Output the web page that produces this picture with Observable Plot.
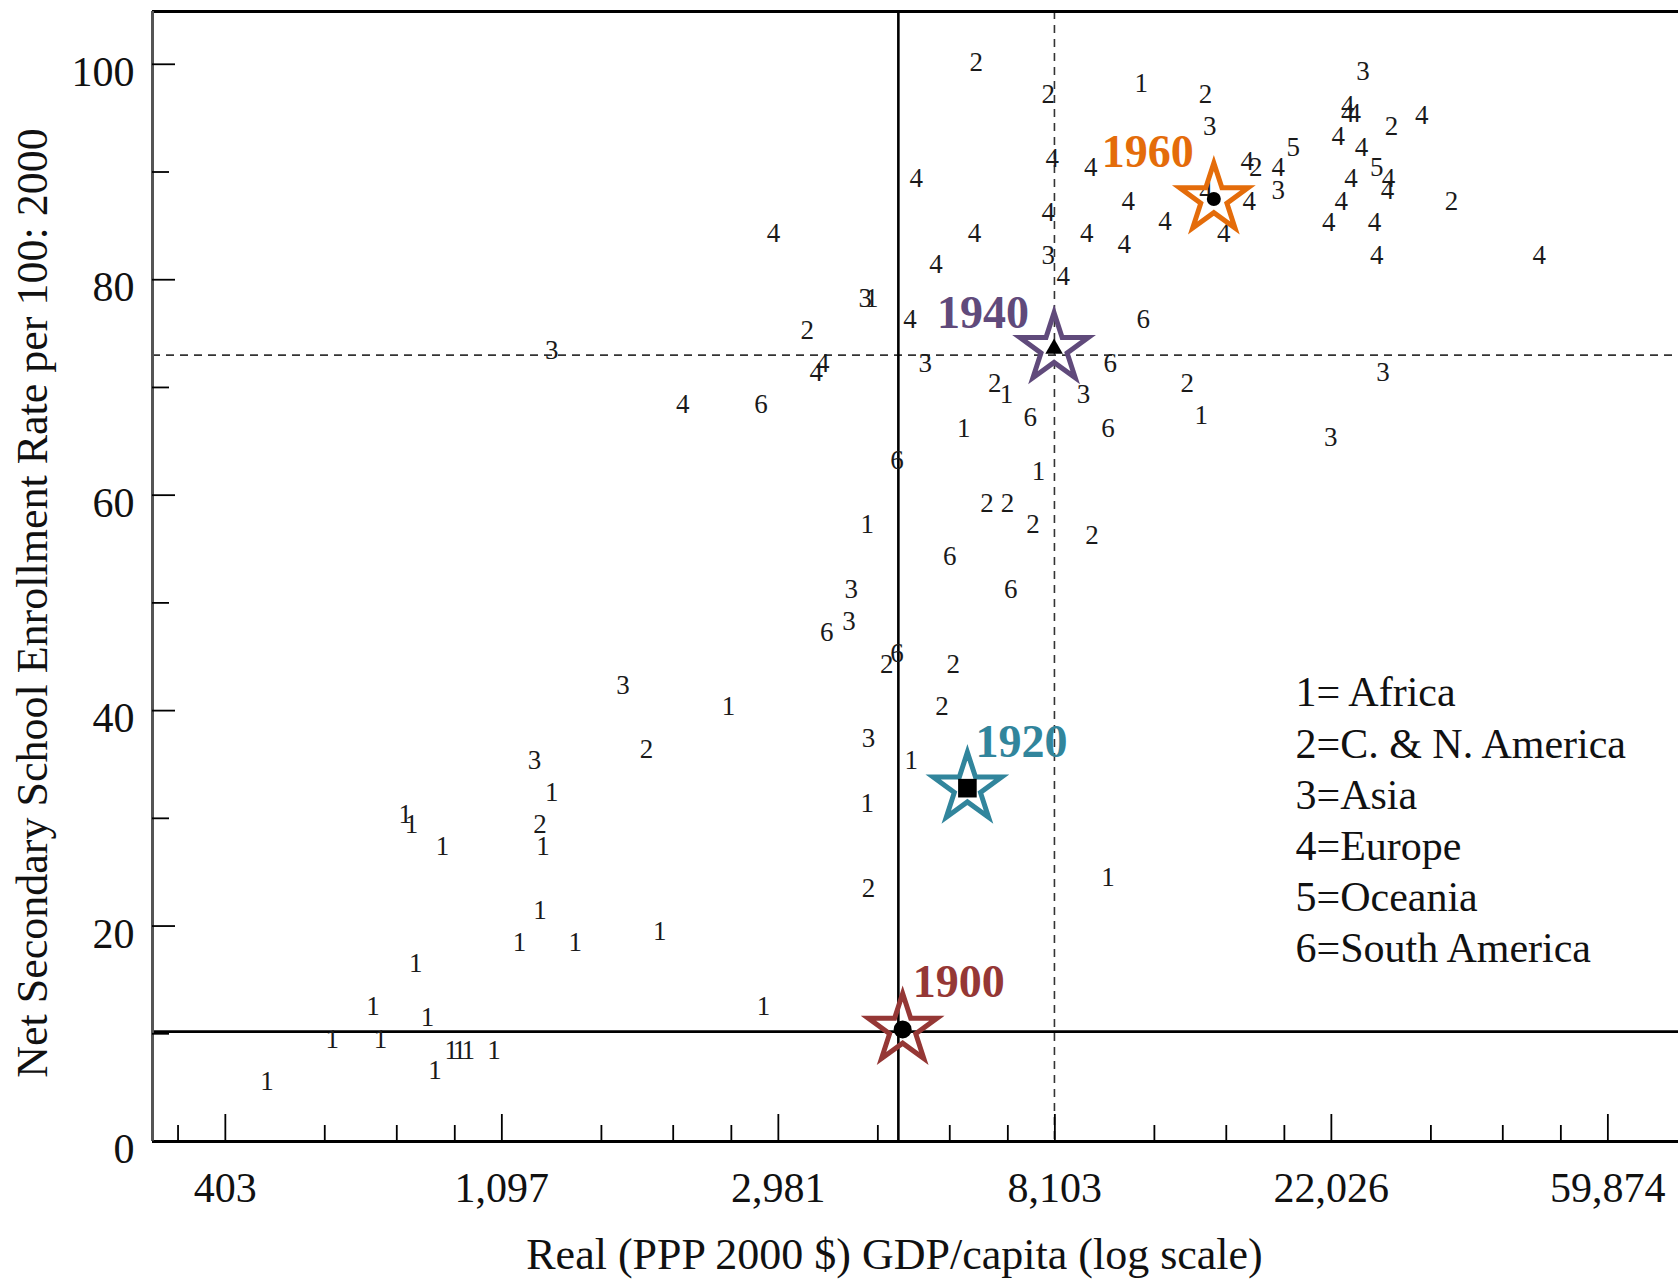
<!DOCTYPE html>
<html>
<head>
<meta charset="utf-8">
<script src="https://cdn.jsdelivr.net/npm/d3@7"></script>
<script src="https://cdn.jsdelivr.net/npm/@observablehq/plot@0.6"></script>
<style>
  html, body { margin: 0; padding: 0; background: #ffffff; overflow: hidden; }
  #chart svg { display: block; }
</style>
</head>
<body>
<div id="chart"></div>
<script>
// ---------------- DATA ----------------
// Region code of each country (1=Africa ... 6=South America)
const regionCode = [
  2, 2, 1, 2, 3, 3, 4, 4, 4, 2,
  4, 4, 4, 5, 4, 2, 4, 3, 4, 5,
  4, 4, 4, 4, 4, 4, 4, 4, 4, 4,
  4, 2, 4, 4, 4, 4, 4, 4, 4, 4,
  4, 4, 3, 4, 3, 1, 4, 2, 4, 4,
  3, 2, 1, 3, 6, 4, 6, 1, 6, 6,
  3, 6, 2, 1, 3, 3, 6, 1, 2, 2,
  2, 2, 1, 6, 6, 3, 3, 6, 2, 6,
  2, 2, 3, 1, 2, 3, 1, 1, 3, 1,
  1, 1, 2, 1, 1, 1, 2, 1, 1, 1,
  1, 1, 1, 1, 1, 1, 1, 1, 1, 1,
  1, 1, 1
];
// Real GDP per capita (PPP 2000 $)
const gdpPerCapita = [
  6100, 7910, 11080, 13970, 14190, 24690, 23380, 23380, 23920, 27390,
  30530, 22580, 24570, 19190, 16250, 16760, 18180, 18180, 23650, 25950,
  27080, 26980, 22830, 16370, 14930, 10570, 12070, 10410, 25740, 21810,
  25950, 34010, 46710, 14000, 8030, 9230, 4910, 2930, 6060, 7910,
  9090, 5270, 7910, 8350, 4080, 4180, 4800, 3310, 3500, 3420,
  5070, 6520, 6800, 8990, 9900, 2110, 2800, 5830, 7410, 9820,
  1313, 11160, 13080, 13760, 21980, 26550, 4580, 7640, 6340, 6830,
  7490, 9270, 4110, 5540, 6910, 3880, 3850, 3550, 4410, 4580,
  5610, 5390, 1700, 2490, 1850, 4130, 4820, 4110, 1234, 1313,
  773, 791, 1259, 1273, 885, 9820, 4130, 1259, 1169, 1430,
  1941, 803, 688, 838, 2826, 594, 707, 913, 941, 971,
  1066, 861, 469
];
// Net secondary school enrollment rate per 100, 2000
const enrollmentRate = [
  100.2, 97.2, 98.2, 97.2, 94.2, 99.3, 96.2, 95.4, 95.4, 94.2,
  95.3, 93.3, 92.3, 92.3, 91.0, 90.4, 90.4, 88.3, 89.4, 90.4,
  89.4, 88.3, 87.3, 87.3, 84.3, 87.3, 85.4, 83.3, 85.3, 85.3,
  82.3, 87.3, 82.3, 88.2, 91.3, 90.4, 89.4, 84.3, 84.3, 86.3,
  84.3, 81.4, 82.3, 80.3, 78.3, 78.3, 76.3, 75.3, 72.2, 71.4,
  72.2, 70.4, 69.4, 69.4, 72.2, 68.4, 68.4, 66.2, 67.2, 66.2,
  73.4, 76.3, 70.4, 67.4, 65.4, 71.4, 63.2, 62.2, 59.2, 59.2,
  57.3, 56.3, 57.3, 54.3, 51.3, 51.3, 48.3, 47.3, 44.3, 45.3,
  44.3, 40.4, 42.3, 40.4, 36.4, 37.4, 35.4, 31.4, 35.4, 32.4,
  30.4, 29.4, 29.4, 27.4, 27.4, 24.5, 23.5, 21.5, 18.5, 18.5,
  19.5, 16.5, 12.5, 11.5, 12.5, 9.5, 9.5, 8.5, 8.5, 8.5,
  8.5, 6.6, 5.6
];
const regionNames = ["Africa", "C. & N. America", "Asia", "Europe", "Oceania", "South America"];

// Historical benchmark averages (stars)
const benchYears = ["1900", "1920", "1940", "1960"];
const benchGdp = [4673, 5906, 8080, 14400];
const benchRate = [10.4, 32.8, 73.6, 87.5];
const benchColors = ["#953735", "#31859C", "#604A7B", "#E46C0A"];
const benchInner = ["circle", "square", "triangle", "circle"];

// Reference lines
const solidRefX = [4601];
const solidRefY = [10.2];
const dashedRefX = [8091];
const dashedRefY = [73.0];

// Axis ticks
const xTickValues = [403.43, 1096.63, 2980.96, 8103.08, 22026.47, 59874.14];
const xTickLabels = ["403", "1,097", "2,981", "8,103", "22,026", "59,874"];
const xMinorTicks = [340, 578, 750, 925, 1572, 2038, 2515, 4272, 5541, 6836,
                     11614, 15063, 18584, 31571, 40946, 50513];
const yTickValues = [0, 20, 40, 60, 80, 100];
const yTickLabels = ["0", "20", "40", "60", "80", "100"];
const yMinorTicks = [10, 30, 50, 70, 90];

const xTitle = "Real (PPP 2000 $) GDP/capita (log scale)";
const yTitle = "Net Secondary School Enrollment Rate per 100: 2000";

// ---------------- LAYOUT ----------------
const W = 1678, H = 1283;
const M = {left: 152, right: 0, top: 11, bottom: 142};
const innerW = W - M.left - M.right;
const innerH = H - M.top - M.bottom;
const xDomain = [310, 77300];
const yDomain = [0, 104.9];
const serif = "'Liberation Serif', 'Times New Roman', Times, serif";

const points = regionCode.map((r, i) => ({region: String(r), gdp: gdpPerCapita[i], rate: enrollmentRate[i]}));
const bench = benchYears.map((y, i) => ({year: y, gdp: benchGdp[i], rate: benchRate[i], color: benchColors[i], inner: benchInner[i]}));
const xTicks = xTickValues.map((v, i) => ({value: v, label: xTickLabels[i]}));
const yTicks = yTickValues.map((v, i) => ({value: v, label: yTickLabels[i]}));
const legendText = regionNames.map((n, i) => (i === 0 ? `${i + 1}= ${n}` : `${i + 1}=${n}`)).join("\n");

const labelStyle = {
  "1900": {anchor: "start", dx: 10, dy: -32},
  "1920": {anchor: "start", dx: 8, dy: -31},
  "1940": {anchor: "end", dx: -25, dy: -21},
  "1960": {anchor: "end", dx: -20, dy: -32}
};
const innerSize = {circle: 9, square: 10.5, triangle: 6.5};
const innerSizeByYear = {"1960": 7};

const marks = [
  // reference lines
  Plot.ruleX(dashedRefX, {stroke: "#333", strokeWidth: 1.6, strokeDasharray: "8,6"}),
  Plot.ruleY(dashedRefY, {stroke: "#333", strokeWidth: 1.6, strokeDasharray: "8,6"}),
  Plot.ruleX(solidRefX, {stroke: "#000", strokeWidth: 2.6}),
  Plot.ruleY(solidRefY, {stroke: "#000", strokeWidth: 2.6}),
  // frame lines
  Plot.ruleY([yDomain[1]], {stroke: "#000", strokeWidth: 3}),
  Plot.ruleY([yDomain[0]], {stroke: "#000", strokeWidth: 3}),
  Plot.ruleX([xDomain[0]], {stroke: "#555", strokeWidth: 3}),
  // inward ticks
  Plot.tickX(xTickValues, {stroke: "#000", strokeWidth: 1.8, insetTop: innerH - 27}),
  Plot.tickX(xMinorTicks, {stroke: "#000", strokeWidth: 1.8, insetTop: innerH - 16}),
  Plot.tickY(yTickValues, {stroke: "#000", strokeWidth: 1.8, insetRight: innerW - 23}),
  Plot.tickY(yMinorTicks, {stroke: "#000", strokeWidth: 1.8, insetRight: innerW - 17}),
  // tick labels
  Plot.text(xTicks, {x: "value", text: "label", frameAnchor: "bottom", textAnchor: "middle",
                     lineAnchor: "top", dy: 31, fontSize: 42, fontFamily: serif, fill: "#111"}),
  Plot.text(yTicks, {y: "value", text: "label", frameAnchor: "left", textAnchor: "end",
                     lineAnchor: "middle", dx: -18, dy: 8, fontSize: 42, fontFamily: serif, fill: "#111"}),
  // axis titles
  Plot.text([xTitle], {frameAnchor: "bottom", textAnchor: "middle", dx: -21, dy: 113, lineAnchor: "middle",
                       fontSize: 44, fontFamily: serif, fill: "#111"}),
  Plot.text([yTitle], {frameAnchor: "left", textAnchor: "middle", rotate: -90, dx: -120, dy: 26.5,
                       lineAnchor: "middle", fontSize: 44, fontFamily: serif, fill: "#111"}),
  // country labels
  Plot.text(points, {x: "gdp", y: "rate", text: "region", fontSize: 27, fontFamily: serif,
                     fill: "#1a1a1a", textAnchor: "middle", lineAnchor: "middle"}),
  // legend
  Plot.text([legendText], {frameAnchor: "top-left", dx: 1143, dy: 658.5, textAnchor: "start",
                           lineAnchor: "top", lineHeight: 1.219, fontSize: 42, fontFamily: serif, fill: "#111"})
];

// benchmark stars, inner markers and year labels
bench.forEach(b => {
  marks.push(Plot.dot([b], {x: "gdp", y: "rate", symbol: "star", r: 21.5, stroke: b.color,
                             strokeWidth: 5, fill: "none"}));
  marks.push(Plot.dot([b], {x: "gdp", y: "rate", symbol: b.inner,
                             r: innerSizeByYear[b.year] ?? innerSize[b.inner],
                             fill: "#000", stroke: "none"}));
  const s = labelStyle[b.year];
  marks.push(Plot.text([b], {x: "gdp", y: "rate", text: "year", textAnchor: s.anchor, lineAnchor: "bottom",
                              dx: s.dx, dy: s.dy, fontSize: 46, fontWeight: "bold", fontFamily: serif,
                              fill: b.color}));
});

const chart = Plot.plot({
  width: W,
  height: H,
  marginLeft: M.left,
  marginRight: M.right,
  marginTop: M.top,
  marginBottom: M.bottom,
  style: {fontFamily: serif, background: "#ffffff", overflow: "visible"},
  x: {type: "log", domain: xDomain, axis: null},
  y: {type: "linear", domain: yDomain, axis: null},
  marks
});
document.getElementById("chart").appendChild(chart);
</script>
</body>
</html>
